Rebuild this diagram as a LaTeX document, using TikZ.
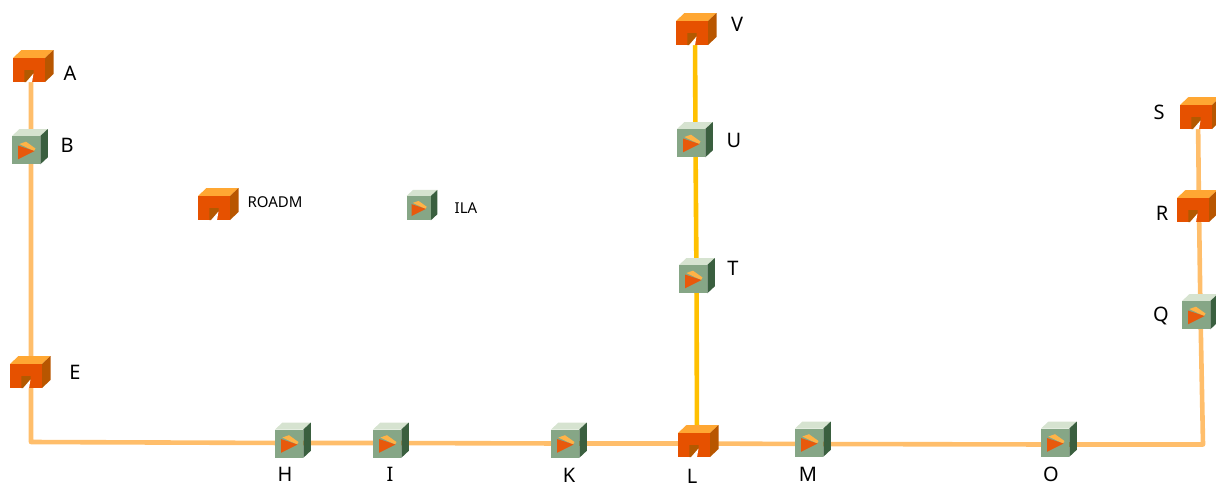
\documentclass[tikz,border=0pt]{standalone}
\usepackage{fontspec}
\setmainfont{Noto Sans}
\definecolor{rtop}{HTML}{FFA733}
\definecolor{rfront}{HTML}{E65100}
\definecolor{rside}{HTML}{B85600}
\definecolor{rnotch}{HTML}{B35900}
\definecolor{itop}{HTML}{D6E3D0}
\definecolor{ifront}{HTML}{86A686}
\definecolor{iside}{HTML}{3A5F3F}
\definecolor{iarrow}{HTML}{E8590C}
\definecolor{iband}{HTML}{FFB347}
\definecolor{linkpale}{HTML}{FFBE6B}
\definecolor{linkgold}{HTML}{FFC000}
\tikzset{
  hub/.style={inner sep=0pt,minimum size=0pt,outer sep=0pt},
  paleline/.style={draw=linkpale,line width=4.6pt,line join=round},
  goldline/.style={draw=linkgold,line width=4.6pt,line join=round},
  lab/.style={inner sep=0pt,font=\fontsize{20}{22}\selectfont},
  leglab/.style={inner sep=0pt,font=\fontsize{15}{18}\selectfont},
  roadmicon/.pic={
    \fill[rtop] (0,0) -- (8.5,-8) -- (40.5,-8) -- (32,0) -- cycle;
    \fill[rside] (32,0) -- (40.5,-8) -- (40.5,16) -- (32,24) -- cycle;
    \fill[rfront] (0,0) rectangle (32,24);
    \fill[rnotch] (11.3,12) -- (20.5,12) -- (20.5,15.5) -- (13,24) -- (11.3,24) -- cycle;
    \fill[white] (20.5,15.5) -- (19,24.2) -- (13,24.2) -- cycle;
  },
  ilaicon/.pic={
    \fill[itop] (0,0) -- (7.5,-7) -- (35.8,-7) -- (28.3,0) -- cycle;
    \fill[iside] (28.3,0) -- (35.8,-7) -- (35.8,21.3) -- (28.3,28.3) -- cycle;
    \fill[ifront] (0,0) rectangle (28.3,28.3);
    \fill[iband] (7.3,8) -- (14,5.7) -- (23.5,12.5) -- (22,15) -- cycle;
    \fill[iarrow] (6,9.5) -- (22.5,15) -- (6,23.3) -- cycle;
  }
}
\begin{document}
\begin{tikzpicture}[x=1pt,y=-1pt]
\clip (0,0) rectangle (1216,483);
% connection points of the devices
\node[hub] (A) at (31,70) {};
\node[hub] (B) at (31,150) {};
\node[hub] (E) at (31,376) {};
\coordinate (cornerW) at (31,442);
\node[hub] (H) at (289,443) {};
\node[hub] (I) at (387,443) {};
\node[hub] (K) at (565,443.5) {};
\node[hub] (L) at (697,443.5) {};
\node[hub] (M) at (809,444) {};
\node[hub] (O) at (1055,444.5) {};
\coordinate (cornerE) at (1203,444.5);
\node[hub] (Q) at (1200.5,315) {};
\node[hub] (R) at (1199,210) {};
\node[hub] (S) at (1198,117) {};
\node[hub] (T) at (696.5,279) {};
\node[hub] (U) at (695.5,143) {};
\node[hub] (V) at (695,33) {};
% connectors
\draw[paleline] (A) -- (B) -- (E) -- (cornerW) -- (H) -- (I) -- (K) -- (L) -- (M) -- (O) -- (cornerE) -- (Q) -- (R) -- (S);
\draw[goldline] (L) -- (T) -- (U) -- (V);
% device icons
\pic at (13,58) {roadmicon};
\pic at (12,136) {ilaicon};
\pic at (10,364) {roadmicon};
\pic at (275,429.5) {ilaicon};
\pic at (373,429.5) {ilaicon};
\pic at (551,429.5) {ilaicon};
\pic at (678,433) {roadmicon};
\pic at (795,428.5) {ilaicon};
\pic at (1041,428.5) {ilaicon};
\pic at (1182,301) {ilaicon};
\pic at (1177,198) {roadmicon};
\pic at (1180,105) {roadmicon};
\pic at (679,265) {ilaicon};
\pic at (677,129) {ilaicon};
\pic at (676,21) {roadmicon};
\pic at (198,196) {roadmicon};
\pic[scale=.86] at (406.5,196) {ilaicon};
% labels
\node[lab] (tA) at (70,73.5) {A};
\node[lab] (tB) at (67,145.5) {B};
\node[lab] (tE) at (75,372.5) {E};
\node[lab] (tH) at (285,474.5) {H};
\node[lab] (tI) at (390,474.5) {I};
\node[lab] (tK) at (569,475.5) {K};
\node[lab] (tL) at (692,476) {L};
\node[lab] (tM) at (808,474.5) {M};
\node[lab] (tO) at (1051,474.5) {O};
\node[lab] (tQ) at (1161,316) {Q};
\node[lab] (tR) at (1162,213.5) {R};
\node[lab] (tS) at (1159,112.5) {S};
\node[lab] (tT) at (733,268) {T};
\node[lab] (tU) at (734,140.5) {U};
\node[lab] (tV) at (737,24.5) {V};
\node[leglab] (tRoadm) at (275,202.5) {ROADM};
\node[leglab] (tIla) at (466,208.5) {ILA};
\end{tikzpicture}
\end{document}
